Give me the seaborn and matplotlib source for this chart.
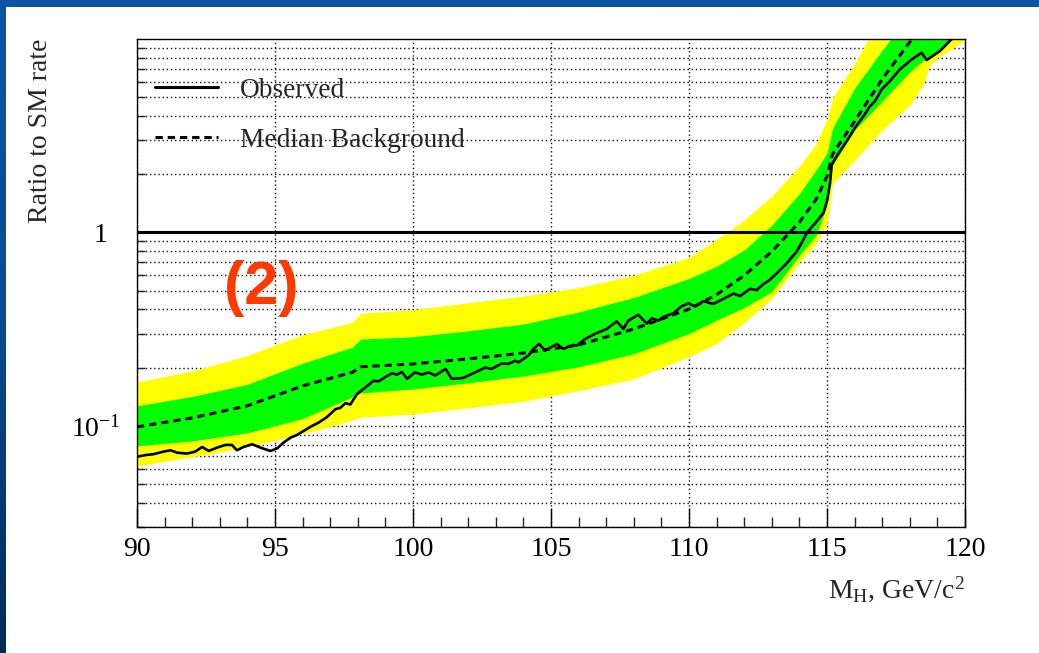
import numpy as np
import pandas as pd
import matplotlib
matplotlib.use("Agg")
import matplotlib.pyplot as plt
import matplotlib.transforms as mtransforms
from matplotlib.colors import LinearSegmentedColormap
from matplotlib.patches import Rectangle
from matplotlib.lines import Line2D
from matplotlib.ticker import MultipleLocator, LogLocator, NullFormatter
import seaborn as sns

sns.set_style("ticks")
plt.rcParams["font.family"] = ["Liberation Serif", "DejaVu Serif"]
plt.rcParams["mathtext.fontset"] = "custom"
plt.rcParams["mathtext.rm"] = "Liberation Serif"
plt.rcParams["mathtext.it"] = "Liberation Serif:italic"
plt.rcParams["mathtext.bf"] = "Liberation Serif:bold"

# Expected limit bands (ratio to SM rate) vs Higgs mass
band_mass = [90, 92, 94, 96, 97.8, 98.1, 100, 102, 104, 106, 108, 110, 111, 112,
             113, 114, 114.6, 115.0, 115.2, 116, 117, 118, 118.5, 118.7, 119, 120]
median_bkg = [0.0988, 0.110, 0.127, 0.161, 0.189, 0.202, 0.209, 0.222, 0.238, 0.262,
              0.317, 0.401, 0.477, 0.599, 0.797, 1.13, 1.48, 1.95, 2.54, 3.76,
              6.21, 9.65, 12.2, 13.0, 15.5, 25.7]
green_hi = [0.127, 0.142, 0.164, 0.211, 0.255, 0.281, 0.289, 0.310, 0.336, 0.388,
            0.461, 0.578, 0.670, 0.812, 1.09, 1.59, 2.10, 2.57, 3.46, 5.57,
            8.77, 13.3, 16.0, 17.0, 19.0, 28.0]
green_lo = [0.0788, 0.0836, 0.092, 0.109, 0.141, 0.148, 0.155, 0.167, 0.181, 0.202,
            0.236, 0.300, 0.352, 0.409, 0.494, 0.760, 0.965, 1.38, 2.22, 3.38,
            4.77, 6.74, 7.78, 8.1, 8.71, 11.1]
yellow_hi = [0.169, 0.192, 0.231, 0.296, 0.343, 0.382, 0.399, 0.433, 0.469, 0.518,
             0.600, 0.742, 0.920, 1.16, 1.54, 2.20, 2.86, 3.85, 4.95, 7.42,
             13.8, 22.0, 27.0, 29.0, 33.0, 45.0]
yellow_lo = [0.0621, 0.0691, 0.0778, 0.0909, 0.107, 0.111, 0.115, 0.124, 0.134, 0.152,
             0.175, 0.228, 0.266, 0.342, 0.455, 0.700, 0.877, 1.11, 1.79, 2.36,
             3.38, 4.55, 5.85, 7.25, 7.97, 9.88]

# Observed limit
obs_mass = [90.00, 90.36, 90.60, 90.91, 91.21, 91.45, 91.81, 92.11, 92.36, 92.60,
            92.90, 93.20, 93.44, 93.62, 93.86, 94.17, 94.47, 94.83, 95.07, 95.31,
            95.56, 95.80, 96.04, 96.28, 96.58, 96.88, 97.19, 97.37, 97.55, 97.73,
            97.97, 98.27, 98.57, 98.76, 99.00, 99.24, 99.42, 99.60, 99.78, 100.07,
            100.32, 100.56, 100.80, 101.18, 101.40, 101.82, 102.25, 102.61, 102.85, 103.21,
            103.45, 103.70, 103.82, 104.18, 104.36, 104.57, 104.78, 105.21, 105.45, 105.81,
            105.93, 106.23, 106.59, 107.02, 107.38, 107.62, 107.80, 108.16, 108.47, 108.65,
            108.89, 109.07, 109.43, 109.73, 109.98, 110.22, 110.52, 110.88, 111.24, 111.61,
            111.85, 112.21, 112.45, 112.69, 112.90, 113.18, 113.54, 113.90, 114.14, 114.26,
            114.57, 114.87, 115.01, 115.11, 115.17, 115.35, 115.71, 116.01, 116.32, 116.56,
            116.74, 116.98, 117.28, 117.64, 118.07, 118.43, 118.61, 119.09, 119.58, 119.80]
obs_ratio = [0.0693, 0.0708, 0.0714, 0.0733, 0.0748, 0.0727, 0.0719, 0.0736, 0.0778, 0.0742,
             0.0772, 0.0797, 0.0797, 0.0748, 0.0778, 0.0804, 0.0772, 0.0742, 0.0763, 0.0819,
             0.0869, 0.0898, 0.0942, 0.0988, 0.104, 0.111, 0.122, 0.124, 0.131, 0.129,
             0.146, 0.158, 0.171, 0.170, 0.179, 0.187, 0.184, 0.190, 0.175, 0.189,
             0.184, 0.189, 0.182, 0.197, 0.175, 0.177, 0.189, 0.200, 0.197, 0.210,
             0.209, 0.217, 0.213, 0.231, 0.250, 0.265, 0.245, 0.265, 0.250, 0.262,
             0.260, 0.281, 0.299, 0.317, 0.347, 0.317, 0.350, 0.375, 0.338, 0.360,
             0.350, 0.366, 0.382, 0.415, 0.430, 0.414, 0.441, 0.427, 0.453, 0.483,
             0.469, 0.511, 0.503, 0.540, 0.565, 0.615, 0.693, 0.797, 0.916, 0.993,
             1.117, 1.259, 1.476, 1.80, 2.24, 2.48, 2.96, 3.47, 3.99, 4.50,
             4.77, 5.49, 6.06, 6.97, 7.85, 8.49, 7.78, 8.67, 10.2, 11.0]

W, H = 1039, 653
fig = plt.figure(figsize=(W / 100, H / 100), dpi=100)

# slide background: blue frame with a white panel
bg = fig.add_axes([0, 0, 1, 1], zorder=-10)
grad = np.linspace(0, 1, 256).reshape(-1, 1)
slide_cmap = LinearSegmentedColormap.from_list("slide", ["#0C55A6", "#0A4A92", "#002B57"])
bg.imshow(grad, aspect="auto", cmap=slide_cmap, extent=[0, 1, 0, 1])
bg.add_patch(Rectangle((6 / W, 0), 1, 1 - 7 / H, facecolor="white", edgecolor="none"))
bg.set_xlim(0, 1)
bg.set_ylim(0, 1)
bg.axis("off")

ax = fig.add_axes([137 / W, (H - 527) / H, 828 / W, 488 / H])
ax.set_facecolor("white")
ax.set_yscale("log")
ax.set_xlim(90, 120)
ax.set_ylim(0.03, 10)
ax.set_axisbelow(True)

ax.fill_between(band_mass, yellow_lo, yellow_hi, color="#FFFF00", lw=0, zorder=1)
ax.fill_between(band_mass, green_lo, green_hi, color="#00FF00", lw=0, zorder=2)

dash = (0, (2.4, 1.6))
med_df = pd.DataFrame({"mass": band_mass, "ratio": median_bkg})
sns.lineplot(data=med_df, x="mass", y="ratio", ax=ax, color="black", lw=2.2,
             linestyle=dash, estimator=None, sort=False, legend=False, zorder=3)
obs_df = pd.DataFrame({"mass": obs_mass, "ratio": obs_ratio})
sns.lineplot(data=obs_df, x="mass", y="ratio", ax=ax, color="black", lw=1.9,
             estimator=None, sort=False, legend=False, zorder=4)

ax.axhline(1.0, color="black", lw=2.2, zorder=5)

# axes, ticks, grid
for s in ax.spines.values():
    s.set_color("black")
    s.set_linewidth(1.0)
    s.set_visible(True)
ax.xaxis.set_major_locator(MultipleLocator(5))
ax.xaxis.set_minor_locator(MultipleLocator(1))
ax.set_yticks([0.1, 1.0], labels=[r"$10^{-1}$", "1"])
ax.yaxis.set_minor_locator(LogLocator(base=10, subs=np.arange(2, 10), numticks=20))
ax.yaxis.set_minor_formatter(NullFormatter())
ax.tick_params(axis="x", which="major", direction="in", length=14, width=1,
               pad=7, labelsize=20, top=False, colors="black")
ax.tick_params(axis="x", which="minor", direction="in", length=7, width=1, top=False)
ax.tick_params(axis="y", which="major", direction="in", length=12, width=1,
               pad=12, labelsize=20, right=False, colors="black")
ax.tick_params(axis="y", which="minor", direction="in", length=6, width=1, right=False)

grid_style = dict(color="#111111", linestyle=(0, (1, 2.0)), linewidth=1.0)
ax.grid(which="both", axis="y", **grid_style)
ax.grid(which="major", axis="x", **grid_style)

# the plain "1" sits a little further left than the power label
for lbl in ax.get_yticklabels():
    if lbl.get_text() == "1":
        lbl.set_transform(lbl.get_transform() +
                          mtransforms.ScaledTranslation(-0.13, 0, fig.dpi_scale_trans))

ax.set_xlabel(r"M$_{\mathrm{H}}$, GeV/c$^{2}$", fontsize=20, loc="right")
ax.xaxis.set_label_coords(1.0, -0.096)
ax.set_ylabel("Ratio to SM rate", fontsize=20, loc="top")
ax.yaxis.set_label_coords(-0.101, 1.0)

handles = [Line2D([], [], color="black", lw=2.2),
           Line2D([], [], color="black", lw=2.2, linestyle=dash)]
ax.legend(handles, ["Observed", "Median Background"], loc="upper left",
          bbox_to_anchor=(0.0217, 0.921), frameon=False, fontsize=19.7,
          handlelength=2.3, handletextpad=0.8, labelspacing=0.92,
          borderpad=0, borderaxespad=0)

ax.text(94.49, 0.429, "(2)", color="#FF3A00", fontsize=44, fontweight="bold",
        family="Liberation Sans", ha="center", va="baseline", zorder=6)

fig.savefig("out.png", dpi=100)
